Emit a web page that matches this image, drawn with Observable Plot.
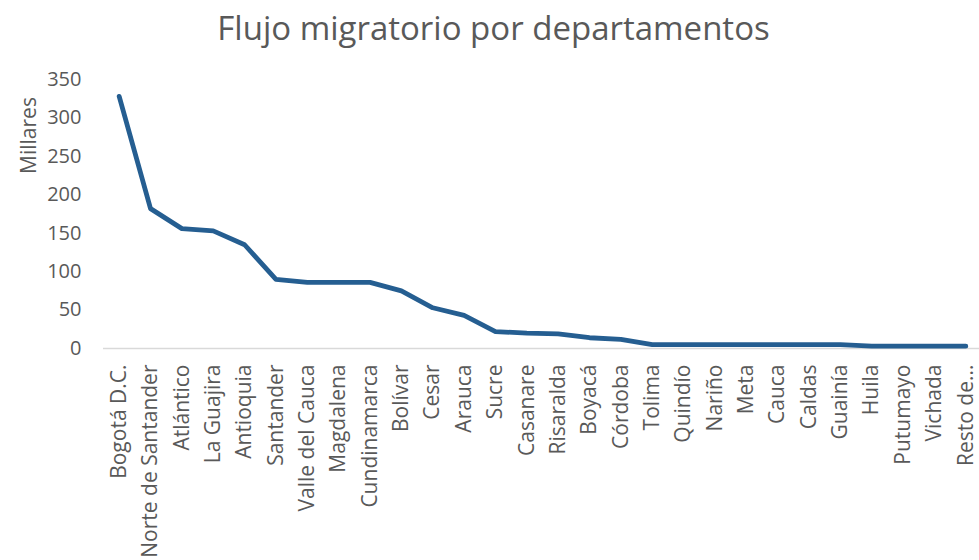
<!DOCTYPE html>
<html>
<head>
<meta charset="utf-8">
<script src="https://cdn.jsdelivr.net/npm/d3@7"></script>
<script src="https://cdn.jsdelivr.net/npm/@observablehq/plot@0.6"></script>
<style>
  html, body { margin: 0; padding: 0; background: #fff; overflow: hidden; }
  body { width: 979px; height: 560px; font-family: "Open Sans", sans-serif; }
  #title { height: 55px; line-height: 56px; text-align: center; font-size: 33px; color: #595959; padding-left: 8px; white-space: nowrap; }
  #chart svg { display: block; max-width: none; }
</style>
</head>
<body>
<div id="title">Flujo migratorio por departamentos</div>
<div id="chart"></div>
<script>
const departamentos = ["Bogotá D.C.", "Norte de Santander", "Atlántico", "La Guajira", "Antioquia", "Santander",
  "Valle del Cauca", "Magdalena", "Cundinamarca", "Bolívar", "Cesar", "Arauca", "Sucre", "Casanare",
  "Risaralda", "Boyacá", "Córdoba", "Tolima", "Quindío", "Nariño", "Meta", "Cauca", "Caldas", "Guainía",
  "Huila", "Putumayo", "Vichada", "Resto de..."];
const millares = [328, 182, 156, 153, 135, 90, 86, 86, 86, 75, 53, 43, 22, 20, 19, 14, 12, 5,
  5, 5, 5, 5, 5, 5, 3, 3, 3, 3];
const yTicks = [0, 50, 100, 150, 200, 250, 300, 350];

const data = departamentos.map((d, i) => ({departamento: d, valor: millares[i]}));

const chart = Plot.plot({
  width: 979,
  height: 505,
  marginTop: 24,
  marginBottom: 212,
  marginLeft: 103,
  marginRight: 0,
  style: {fontFamily: "Open Sans, sans-serif", color: "#595959", background: "#fff", overflow: "visible"},
  x: {type: "point", domain: departamentos, range: [103, 981], padding: 0.5, round: false, label: null},
  y: {domain: [0, 350], range: [293, 24], label: null},
  marks: [
    Plot.ruleY([0], {stroke: "#d9d9d9", strokeWidth: 1.5}),
    Plot.axisY({ticks: yTicks, tickSize: 0, tickPadding: 22, fontSize: 20, label: null, fill: "#595959"}),
    Plot.axisX({tickSize: 0, tickPadding: 16, tickRotate: -90, fontSize: 21, label: null, fill: "#595959"}),
    Plot.line(data, {x: "departamento", y: "valor", stroke: "#255e91", strokeWidth: 4.8, strokeLinejoin: "round", strokeLinecap: "round"}),
    Plot.text(["Millares"], {frameAnchor: "top-left", dx: -82, dy: 56, rotate: -90, fontSize: 21, fill: "#595959", textAnchor: "middle"})
  ]
});
document.getElementById("chart").appendChild(chart);
</script>
</body>
</html>
